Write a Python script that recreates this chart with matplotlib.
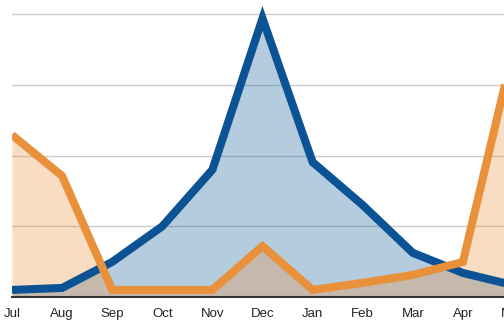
import numpy as np
import matplotlib as mpl
mpl.use('Agg')
import matplotlib.pyplot as plt

# months shown along the bottom (May is cut off at the right edge)
months = ['Jul', 'Aug', 'Sep', 'Oct', 'Nov', 'Dec', 'Jan', 'Feb', 'Mar', 'Apr', 'May']

# series values (grid step = 25)
blue_values = [2.5, 3.2, 12.4, 25.0, 45.0, 98.5, 47.7, 32.5, 15.6, 8.5, 4.2]
orange_values = [57.3, 42.8, 2.5, 2.5, 2.5, 18.0, 2.5, 5.0, 7.8, 12.4, 87.0]

grid_levels = [25, 50, 75, 100]

blue = '#0b5394'
orange = '#e8913a'

plt.rcParams['font.family'] = ['Liberation Sans', 'DejaVu Sans']

fig = plt.figure(figsize=(5.04, 3.30), dpi=100)
# axes runs past the right edge of the figure so May is only half shown
step = 50.1  # px per month
ax = fig.add_axes([12/504, 0.1, (10.02 * step) / 504, 0.9])

x = np.arange(len(months))

# gridlines sit under the translucent fills
for level in grid_levels:
    ax.axhline(level, color='#cccccc', lw=1, zorder=0)

ax.fill_between(x, 0, blue_values, color=blue, alpha=0.3, lw=0, zorder=1)
ax.fill_between(x, 0, orange_values, color=orange, alpha=0.3, lw=0, zorder=1)

ax.plot(x, blue_values, color=blue, lw=5.8, solid_joinstyle='miter',
        solid_capstyle='butt', zorder=3)
ax.plot(x, orange_values, color=orange, lw=5.8, solid_joinstyle='miter',
        solid_capstyle='butt', zorder=4)

ax.axhline(0, color='#333333', lw=1.5, zorder=5, clip_on=False)

ax.set_xticks(x)
ax.set_xticklabels(months, fontsize=9.5, color='#222222')
ax.set_yticks([])
ax.tick_params(axis='x', length=0, pad=8)
for side in ['top', 'right', 'left', 'bottom']:
    ax.spines[side].set_visible(False)

# limits last, set_xticks would widen them otherwise
ax.set_xlim(0, 10.02)
ax.set_ylim(0, 105)

fig.savefig('out.png', dpi=100)
